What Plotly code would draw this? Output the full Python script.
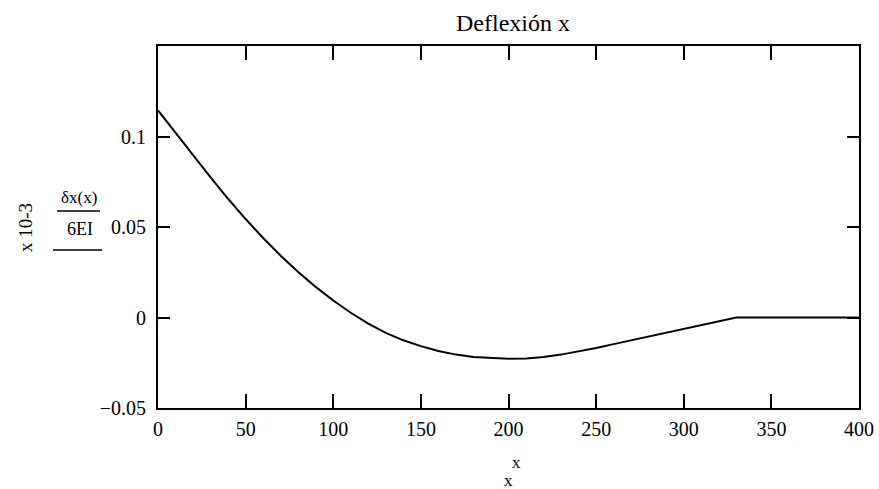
import plotly.graph_objects as go

# Deflection curve samples (x along the beam, deflection scaled by 6EI, ×10^-3)
x_vals = [0, 10, 20, 30, 40, 50, 60, 70, 80, 90, 100, 110, 120, 130, 140, 150,
          160, 170, 180, 190, 200, 210, 220, 230, 240, 250, 260, 270, 280, 290,
          300, 310, 320, 330, 400]
defl_vals = [0.1144, 0.1020, 0.0896, 0.0774, 0.0656, 0.0544, 0.0439, 0.0341,
             0.0251, 0.0169, 0.0094, 0.0026, -0.0034, -0.0085, -0.0126, -0.0158,
             -0.0185, -0.0205, -0.0218, -0.0225, -0.0228, -0.0226, -0.0218,
             -0.0205, -0.0188, -0.0168, -0.0147, -0.0126, -0.0105, -0.0084,
             -0.0063, -0.0042, -0.0021, 0.0, 0.0]

x_ticks = [0, 50, 100, 150, 200, 250, 300, 350, 400]
y_ticks = [-0.05, 0, 0.05, 0.1]
y_tick_text = ["\u22120.05", "0", "0.05", "0.1"]

font_family = "Times New Roman, Liberation Serif, serif"

# plot area in pixels
L, R, T, B = 158, 859, 46, 408
W, H = 879, 489


def px_x(x):
    return (x - L) / (R - L)


def px_y(y):
    return 1 - (y - T) / (B - T)


fig = go.Figure()
fig.add_trace(go.Scatter(
    x=x_vals, y=defl_vals, mode="lines",
    line=dict(color="black", width=2),
    showlegend=False, hoverinfo="skip",
))

fig.update_layout(
    width=W, height=H,
    margin=dict(l=L, r=W - R, t=T, b=H - B),
    paper_bgcolor="white", plot_bgcolor="white",
    font=dict(family=font_family, color="black", size=20),
    title=dict(text="Deflexión x", x=513 / W, xanchor="center", y=1 - 23 / H,
               yanchor="middle", automargin=False,
               font=dict(size=24, family=font_family)),
)

fig.update_xaxes(
    range=[0, 400], tickvals=x_ticks, ticks="inside", ticklen=14, tickwidth=1.5,
    tickcolor="black", showline=True, linecolor="black", linewidth=2,
    mirror="ticks", showgrid=False, zeroline=False, ticklabelstandoff=2,
    automargin=False,
    tickfont=dict(size=20, family=font_family, color="black"),
)
fig.update_yaxes(
    range=[-0.05, 0.15], tickvals=y_ticks, ticktext=y_tick_text, ticks="inside",
    ticklen=12, tickwidth=1.5, tickcolor="black", showline=True,
    linecolor="black", linewidth=2, mirror="ticks", showgrid=False,
    zeroline=False, ticklabelstandoff=6, automargin=False,
    tickfont=dict(size=20, family=font_family, color="black"),
)

# Axis labels drawn in paper coordinates
annotations = [
    dict(text="x", x=516, y=462, size=17, angle=0),
    dict(text="x", x=509, y=480, size=17, angle=0),
    dict(text="\u03b4x(x)", x=79, y=197, size=17, angle=0),
    dict(text="6EI", x=80, y=229, size=18, angle=0),
    dict(text="x 10-3", x=25, y=228, size=19, angle=-90),
]
for a in annotations:
    fig.add_annotation(
        text=a["text"], xref="paper", yref="paper",
        x=px_x(a["x"]), y=px_y(a["y"]), textangle=a["angle"],
        xanchor="center", yanchor="middle", showarrow=False,
        font=dict(size=a["size"], family=font_family, color="black"),
    )

# Fraction bars beside the y label
for y_px, x0, x1 in [(211, 57, 100), (250, 53, 102)]:
    fig.add_shape(
        type="line", xref="paper", yref="paper",
        x0=px_x(x0), x1=px_x(x1), y0=px_y(y_px), y1=px_y(y_px),
        line=dict(color="black", width=1.5),
    )

fig.write_html("out.html")
